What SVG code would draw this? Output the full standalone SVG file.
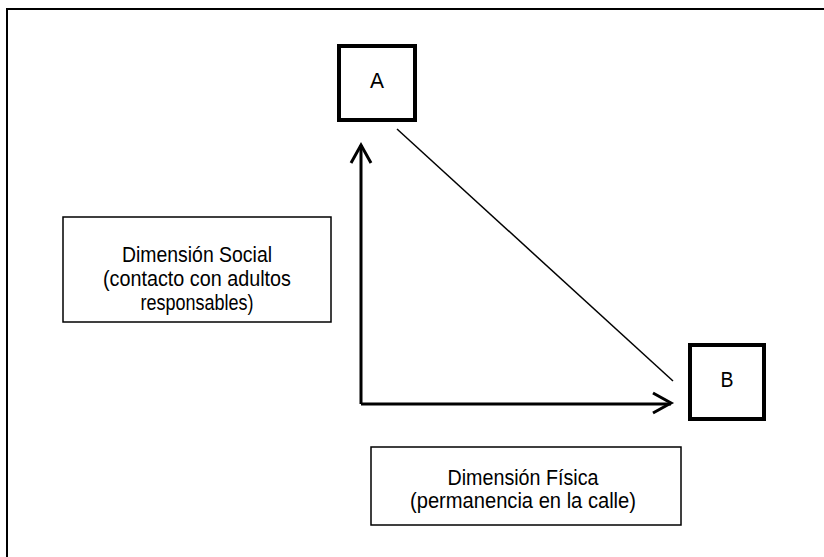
<svg xmlns="http://www.w3.org/2000/svg" width="824" height="557" viewBox="0 0 824 557">
<style>
.frame{fill:none;stroke:#000;stroke-width:2}
.node{fill:#fff;stroke:#000;stroke-width:4}
.lbl{fill:#fff;stroke:#000;stroke-width:1.5}
.t{font-family:"Liberation Sans",Arial,sans-serif;font-size:22px;fill:#000;text-anchor:middle}
.n{font-family:"Liberation Sans Narrow","Arial Narrow","Liberation Sans",Arial,sans-serif;font-size:22px;fill:#000;text-anchor:middle}
.ax{fill:none;stroke:#000;stroke-width:3}
.thin{fill:none;stroke:#000;stroke-width:1.5}
</style>
<rect width="824" height="557" fill="#fff"/>
<path class="frame" d="M7,557 V9 H824"/>
<g id="connectors">
<line class="thin" x1="397" y1="129" x2="673" y2="381"/>
<path class="ax" d="M361,404 V145 M361,404 H671"/>
<path class="ax" d="M351,163 L361,145 L371,163"/>
<path class="ax" d="M653,393 L671,403 L653,413"/>
</g>
<g id="nodeA">
<rect class="node" x="339" y="46" width="76" height="74"/>
<text class="t" x="377" y="88" textLength="14" lengthAdjust="spacingAndGlyphs">A</text>
</g>
<g id="nodeB">
<rect class="node" x="690" y="345" width="74" height="74"/>
<text class="t" x="727" y="387" textLength="13" lengthAdjust="spacingAndGlyphs">B</text>
</g>
<g id="social">
<rect class="lbl" x="63" y="217" width="268" height="105"/>
<text class="n" x="197" y="262" textLength="150" lengthAdjust="spacingAndGlyphs">Dimensión Social</text>
<text class="n" x="197" y="286" textLength="188" lengthAdjust="spacingAndGlyphs">(contacto con adultos</text>
<text class="n" x="197" y="310" textLength="113" lengthAdjust="spacingAndGlyphs">responsables)</text>
</g>
<g id="fisica">
<rect class="lbl" x="371" y="447" width="310" height="78"/>
<text class="n" x="523" y="485" textLength="151" lengthAdjust="spacingAndGlyphs">Dimensión Física</text>
<text class="n" x="523" y="508" textLength="226" lengthAdjust="spacingAndGlyphs">(permanencia en la calle)</text>
</g>
</svg>
